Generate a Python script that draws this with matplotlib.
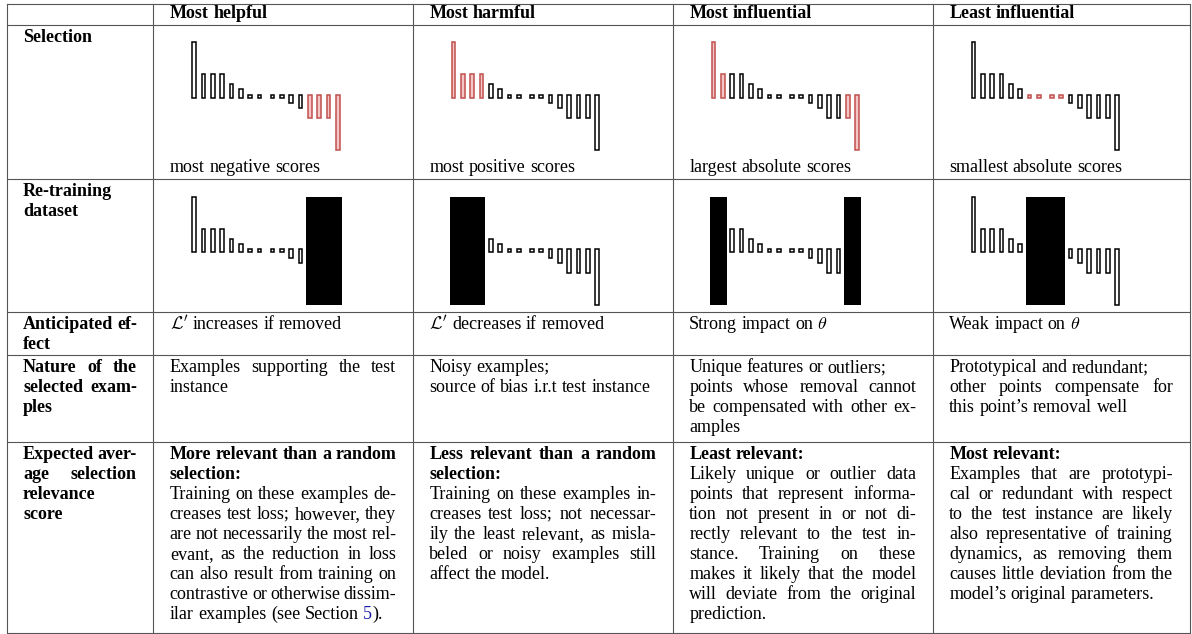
import matplotlib
matplotlib.use('Agg')
import matplotlib.pyplot as plt

plt.rcParams['font.family'] = ['Liberation Serif', 'DejaVu Serif']
plt.rcParams['mathtext.fontset'] = 'cm'

# ---- data ----
columns = ['Most helpful', 'Most harmful', 'Most influential', 'Least influential']
# schematic influence scores, sorted from most positive to most negative
scores = [54, 22, 22, 22, 12, 7, 1.5, 1.5, -1.5, -1.5, -7, -12, -22, -22, -22, -54]
# indices of the selected examples in each strategy
selected = [[12, 13, 14, 15], [0, 1, 2, 3], [0, 1, 14, 15], [6, 7, 8, 9]]
captions = ['most negative scores', 'most positive scores',
            'largest absolute scores', 'smallest absolute scores']

row_labels = [
    [['Selection']],
    [['Re-training', 'dataset']],
    [['Anticipated ef-', 'fect']],
    [['Nature of the', 'selected exam-', 'ples']],
    [['Expected aver-', 'age selection', 'relevance', 'score']],
]
effects = ["$\\mathcal{L}'$ increases if removed",
           "$\\mathcal{L}'$ decreases if removed",
           'Strong impact on $\\theta$',
           'Weak impact on $\\theta$']
nature = [
    [['Examples supporting the test', 'instance']],
    [['Noisy examples;'], ['source of bias i.r.t test instance']],
    [['Unique features or outliers;'],
     ['points whose removal cannot', 'be compensated with other ex-', 'amples']],
    [['Prototypical and redundant;'],
     ['other points compensate for', 'this point\u2019s removal well']],
]
relevance_head = [
    ['More relevant than a random', 'selection:'],
    ['Less relevant than a random', 'selection:'],
    ['Least relevant:'],
    ['Most relevant:'],
]
relevance_text = [
    ['Training on these examples de-', 'creases test loss; however, they',
     'are not necessarily the most rel-', 'evant, as the reduction in loss',
     'can also result from training on', 'contrastive or otherwise dissim-',
     'ilar examples (see Section [5]).'],
    ['Training on these examples in-', 'creases test loss; not necessar-',
     'ily the least relevant, as misla-', 'beled or noisy examples still',
     'affect the model.'],
    ['Likely unique or outlier data', 'points that represent informa-',
     'tion not present in or not di-', 'rectly relevant to the test in-',
     'stance. Training on these', 'makes it likely that the model',
     'will deviate from the original', 'prediction.'],
    ['Examples that are prototypi-', 'cal or redundant with respect',
     'to the test instance are likely', 'also representative of training',
     'dynamics, as removing them', 'causes little deviation from the',
     'model\u2019s original parameters.'],
]

# ---- layout (pixels) ----
W, H = 1192, 634
col_x = [6.5, 153.3, 412.7, 672.7, 932.7, 1189.5]
row_y = [4, 25, 178.5, 312.3, 355, 441.7, 633]
PAD = 16.5
FS = 13
LEAD = 20
SPACE = 0.25 * FS * 100 / 72
LINK = '#1a1aa6'
RED_EDGE = '#c0504d'
RED_FILL = '#f4c6c6'
SLOT = 9.33          # px per bar
GAP = 0.4            # extra slots for the "..." gap
OFF = 1.5            # half height of the near-zero squares

fig = plt.figure(figsize=(W / 100, H / 100), dpi=100)
tab = fig.add_axes([0, 0, 1, 1])
tab.set_xlim(0, W)
tab.set_ylim(H, 0)
tab.axis('off')
renderer = fig.canvas.get_renderer()

# grid of the table
for y in row_y:
    tab.plot([col_x[0], col_x[-1]], [y, y], color='#555555', lw=0.8)
for x in col_x:
    tab.plot([x, x], [row_y[0], row_y[-1]], color='#555555', lw=0.8)


def segs(word):
    if '[' in word:
        a, rest = word.split('[')
        b, c = rest.split(']')
        return [(s, col) for s, col in [(a, 'black'), (b, LINK), (c, 'black')] if s]
    return [(word, 'black')]


def put_line(x0, x1, y, line, bold, justify):
    words = []
    for w in line.split():
        parts = []
        for s, col in segs(w):
            t = tab.text(0, y, s, fontsize=FS, color=col, va='baseline',
                         fontweight='bold' if bold else 'normal')
            parts.append((t, t.get_window_extent(renderer).width))
        words.append(parts)
    widths = [sum(p[1] for p in parts) for parts in words]
    gap = SPACE
    if justify and len(words) > 1:
        gap = (x1 - x0 - sum(widths)) / (len(words) - 1)
    x = x0
    for parts, wd in zip(words, widths):
        xx = x
        for t, w in parts:
            t.set_x(xx)
            xx += w
        x += wd + gap


def put_pars(x0, x1, y, pars, bold=False):
    for lines in pars:
        for k, line in enumerate(lines):
            last = k == len(lines) - 1
            put_line(x0, x1, y, line, bold, not last and len(line.split()) > 1)
            y += LEAD
    return y


def cell(c):
    return col_x[c] + PAD, col_x[c + 1] - PAD


# header
for c, name in enumerate(columns):
    x0, x1 = cell(c + 1)
    put_line(x0, x1, 18.3, name, True, False)

# first column
for r, pars in enumerate(row_labels):
    x0, x1 = cell(0)
    put_pars(x0, x1, row_y[r + 1] + 17, pars, bold=True)

# text rows
for c in range(4):
    x0, x1 = cell(c + 1)
    put_line(x0, x1, row_y[1] + 147.5, captions[c], False, False)
    put_line(x0, x1, row_y[3] + 17, effects[c], False, False)
    put_pars(x0, x1, row_y[4] + 17, nature[c])
    y = put_pars(x0, x1, row_y[5] + 17, [relevance_head[c]], bold=True)
    put_pars(x0, x1, y, [relevance_text[c]])

# small bar charts
pos = [i + (GAP if i >= 8 else 0) for i in range(len(scores))]


def runs(idx):
    out = [[idx[0]]]
    for i in idx[1:]:
        if i == out[-1][-1] + 1:
            out[-1].append(i)
        else:
            out.append([i])
    return out


def chart(c, base, retrain):
    left = col_x[c + 1] + 25
    right = col_x[c + 2] - 25
    half = 66
    ax = fig.add_axes([left / W, 1 - (base + half) / H,
                       (right - left) / W, 2 * half / H])
    lo = -(40.8 - 25) / SLOT
    ax.set_xlim(lo, lo + (right - left) / SLOT)
    ax.set_ylim(-half, half)
    ax.axis('off')
    sel = selected[c]
    for i, v in enumerate(scores):
        if retrain and i in sel:
            continue
        sgn = 1 if v > 0 else -1
        hi = (not retrain) and i in sel
        ax.bar(pos[i], v + sgn * OFF, bottom=-sgn * OFF, width=0.4,
               facecolor=RED_FILL if hi else 'white',
               edgecolor=RED_EDGE if hi else 'black', lw=1.1, clip_on=False)
    if retrain:
        for g in runs(sel):
            a, b = pos[g[0]], pos[g[-1]]
            ax.bar((a + b) / 2, max(scores) - min(scores), bottom=min(scores),
                   width=b - a + 0.85, color='black', lw=0.5, clip_on=False)


for c in range(4):
    chart(c, 96.2, False)
    chart(c, 250.6, True)

fig.savefig('out.png', dpi=100)
